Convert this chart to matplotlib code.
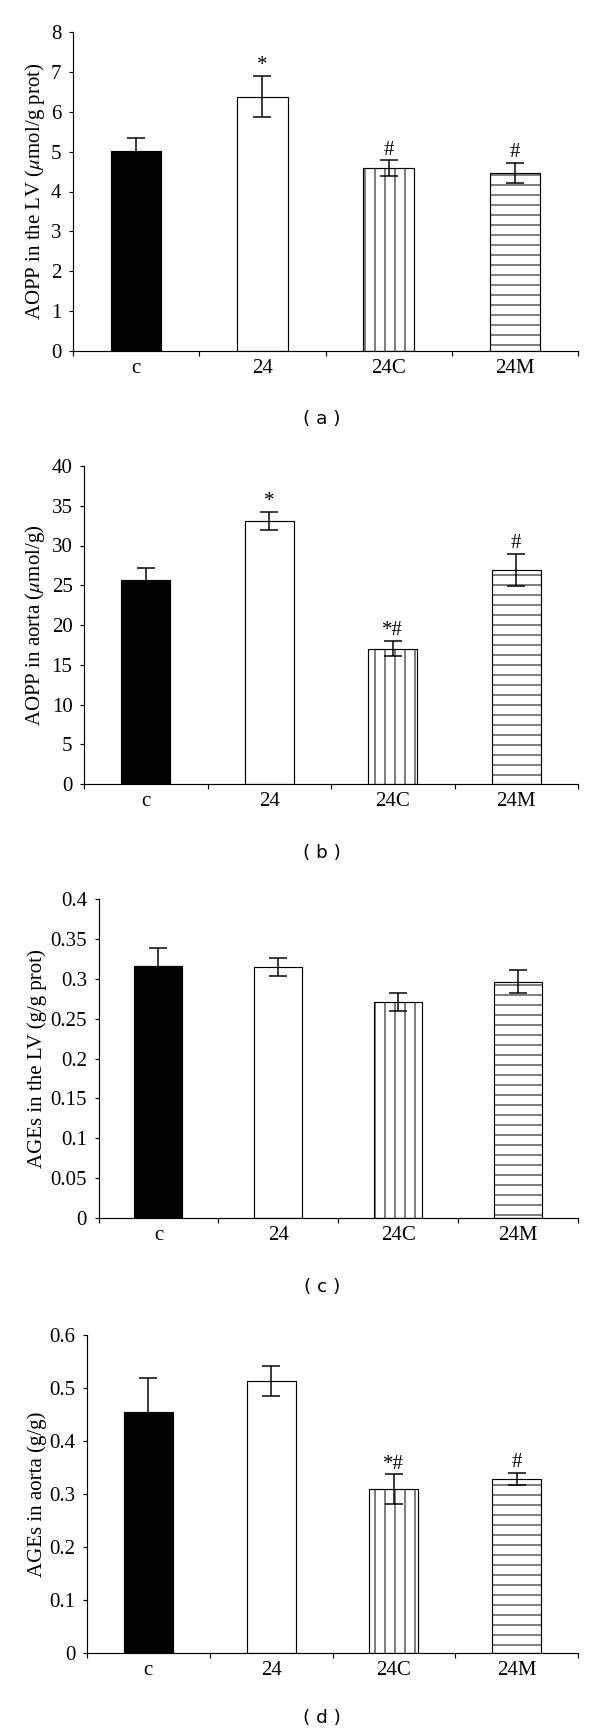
import numpy as np
import matplotlib
matplotlib.use('Agg')
from matplotlib import pyplot as plt
from matplotlib import transforms

# groups on the x axis, same for every panel
groups = ['c', '24', '24C', '24M']

# (a) AOPP in the LV
aoppLV = [5.01, 6.38, 4.59, 4.46]
aoppLVErr = [0.33, 0.51, 0.19, 0.25]
aoppLVMarks = ['', '*', '#', '#']

# (b) AOPP in aorta
aoppAorta = [25.65, 33.1, 17.03, 26.95]
aoppAortaErr = [1.55, 1.1, 0.97, 2.0]
aoppAortaMarks = ['', '*', '*#', '#']

# (c) AGEs in the LV
agesLV = [0.316, 0.315, 0.271, 0.2965]
agesLVErr = [0.023, 0.0115, 0.0117, 0.0145]
agesLVMarks = ['', '', '', '']

# (d) AGEs in aorta
agesAorta = [0.454, 0.513, 0.309, 0.329]
agesAortaErr = [0.065, 0.0285, 0.028, 0.0115]
agesAortaMarks = ['', '', '*#', '#']

plt.rcParams['font.family'] = ['Liberation Serif', 'DejaVu Serif']
plt.rcParams['mathtext.fontset'] = 'stix'
plt.rcParams['hatch.linewidth'] = 0.6

W, H, DPI = 600, 1734, 120
fig = plt.figure(figsize=(W / DPI, H / DPI), dpi=DPI)

fills = ['black', 'white', 'white', 'white']
hatches = ['', '', '||', '--']


def drawPanel(rect, vals, errs, marks, ymax, ystep, ylab, tag, tagY, fmt):
    left, top, right, bottom = rect
    ax = fig.add_axes([left / W, 1 - bottom / H, (right - left) / W, (bottom - top) / H])
    x = np.arange(len(groups))
    ax.bar(x, vals, width=0.4, color=fills, edgecolor='black', linewidth=0.7,
           hatch=hatches, zorder=2)
    ax.errorbar(x, vals, yerr=errs, fmt='none', ecolor='black', elinewidth=0.9,
                capsize=5.5, capthick=0.9, zorder=3)
    for xi, v, e, m in zip(x, vals, errs, marks):
        if m:
            ax.annotate(m, (xi, v + e), xytext=(0, 0.5), textcoords='offset points',
                        ha='center', va='bottom', fontsize=12.5)

    ax.set_xlim(-0.5, len(groups) - 0.5)
    ax.set_ylim(0, ymax)
    ticks = np.arange(0, ymax + ystep / 2, ystep)
    ax.set_yticks(ticks)
    ax.set_yticklabels([fmt(t) for t in ticks])
    ax.set_xticks(np.arange(-0.5, len(groups), 1))
    ax.set_xticklabels([])
    ax.set_xticks(x, groups, minor=True)
    ax.tick_params(axis='x', which='major', length=3, width=0.7, direction='out')
    ax.tick_params(axis='x', which='minor', length=0, pad=5, labelsize=12.5)
    ax.tick_params(axis='y', length=2.4, width=0.7, direction='out', pad=4.5, labelsize=12.5)
    for s in ['top', 'right']:
        ax.spines[s].set_visible(False)
    for s in ['left', 'bottom']:
        ax.spines[s].set_linewidth(0.7)

    ax.set_ylabel(ylab, fontsize=12.5)
    trans = transforms.blended_transform_factory(fig.transFigure, ax.transAxes)
    ax.yaxis.set_label_coords(47 / W, 0.5, transform=trans)

    fig.text(322 / W, 1 - tagY / H, tag, ha='center', va='center',
             fontsize=11, family='DejaVu Sans')
    return ax


def intFmt(t):
    return f"{t:g}"


drawPanel((73, 32, 578, 351), aoppLV, aoppLVErr, aoppLVMarks, 8, 1,
          r"AOPP in the LV ($\mu$mol/g prot)", "( a )", 419, intFmt)
drawPanel((84, 466, 578, 784), aoppAorta, aoppAortaErr, aoppAortaMarks, 40, 5,
          r"AOPP in aorta ($\mu$mol/g)", "( b )", 853, intFmt)
drawPanel((98.5, 899, 578, 1218), agesLV, agesLVErr, agesLVMarks, 0.4, 0.05,
          "AGEs in the LV (g/g prot)", "( c )", 1287, lambda t: f"{round(t, 2):g}")
drawPanel((87, 1335, 578, 1653), agesAorta, agesAortaErr, agesAortaMarks, 0.6, 0.1,
          "AGEs in aorta (g/g)", "( d )", 1718, lambda t: f"{round(t, 1):g}")

fig.savefig('out.png', dpi=DPI)
